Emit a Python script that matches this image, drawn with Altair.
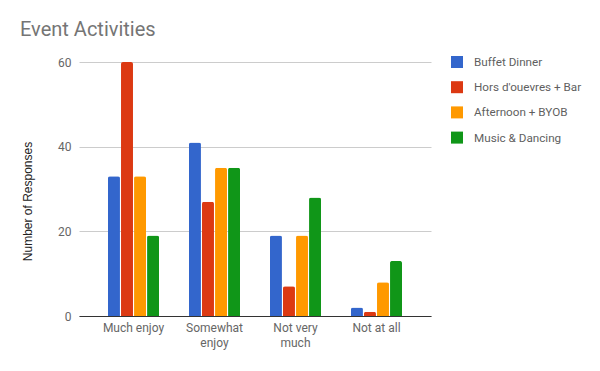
import altair as alt
import pandas as pd

categories = ["Much enjoy", "Somewhat enjoy", "Not very much", "Not at all"]
series = ["Buffet Dinner", "Hors d'ouevres + Bar", "Afternoon + BYOB", "Music & Dancing"]
buffet = [33, 41, 19, 2]
hors = [60, 27, 7, 1]
afternoon = [33, 35, 19, 8]
music = [19, 35, 28, 13]
colors = ["#3366cc", "#dc3912", "#ff9900", "#109618"]

rows = []
for s, vals in zip(series, [buffet, hors, afternoon, music]):
    for c, v in zip(categories, vals):
        rows.append({"category": c, "series": s, "value": v})
df = pd.DataFrame(rows)

label_expr = ("datum.label == 'Somewhat enjoy' ? ['Somewhat', 'enjoy'] : "
              "datum.label == 'Not very much' ? ['Not very', 'much'] : datum.label")

chart = alt.Chart(df).mark_bar(
    cornerRadiusTopLeft=2, cornerRadiusTopRight=2
).encode(
    x=alt.X("category:N", sort=categories,
            scale=alt.Scale(paddingInner=0.37, paddingOuter=0.358),
            axis=alt.Axis(title=None, labelAngle=0, labelExpr=label_expr,
                          labelFont="Roboto", labelFontSize=12,
                          labelColor="#666666", labelPadding=6, labelLineHeight=15,
                          ticks=False, domain=True, domainColor="#333333",
                          domainWidth=1, grid=False)),
    xOffset=alt.XOffset("series:N", sort=series,
                        scale=alt.Scale(paddingInner=0.08, paddingOuter=0)),
    y=alt.Y("value:Q", scale=alt.Scale(domain=[0, 60], nice=False),
            axis=alt.Axis(title="Number of Responses", values=[0, 20, 40, 60],
                          titleFont="Liberation Sans", titleFontSize=12,
                          titleFontWeight="normal", titleColor="#222222",
                          titleX=-52, titleY=139, titleBaseline="middle",
                          labelFont="Roboto", labelFontSize=12,
                          labelColor="#666666", labelPadding=8,
                          ticks=False, domain=False, gridColor="#cccccc")),
    color=alt.Color("series:N", sort=series,
                    scale=alt.Scale(domain=series, range=colors),
                    legend=alt.Legend(title=None, orient="none", legendX=372, legendY=-6,
                                      symbolType="square", symbolSize=144,
                                      symbolStrokeWidth=0,
                                      labelFont="Roboto", labelFontSize=11.7,
                                      labelColor="#5f5f5f", labelOffset=11,
                                      rowPadding=12.2)),
).properties(
    width=352, height=254,
    title=alt.TitleParams("Event Activities", anchor="start", dx=-1, dy=24, offset=24,
                          baseline="alphabetic", font="Roboto", fontSize=20,
                          fontWeight="normal", color="#757575"),
    autosize=alt.AutoSizeParams(type="none"),
    padding={"left": 71, "top": 54, "right": 161, "bottom": 47},
).configure_view(stroke=None)

chart.save("out.html", embed_options={"renderer": "svg", "actions": False})
